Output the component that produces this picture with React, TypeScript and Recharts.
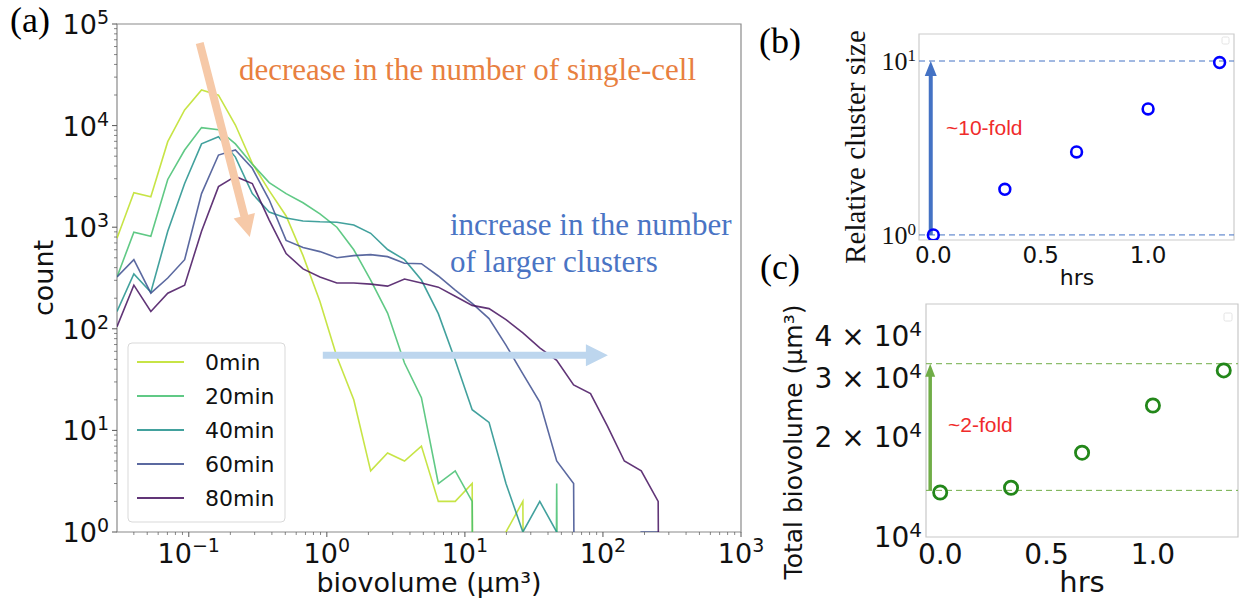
import { Line, LineChart, ReferenceArea, ReferenceLine, Scatter, ScatterChart, XAxis, YAxis } from "recharts"

const SANS = "DejaVu Sans"
const SERIF = "Liberation Serif"

// (a) histogram: log-spaced bin centres in µm³
const binCenters = [
  0.0302, 0.04, 0.0531, 0.0704, 0.0933, 0.1237, 0.1641, 0.2176, 0.2884, 0.3824,
  0.507, 0.6723, 0.8913, 1.182, 1.567, 2.077, 2.754, 3.652, 4.842, 6.42,
  8.511, 11.29, 14.96, 19.84, 26.3, 34.87, 46.24, 61.31, 81.28, 107.8,
  142.9, 189.4, 251.2, 333.0,
]

const count0min = [778, 2190, 1995, 6950, 14260, 22400, 19950, 10140, 4250, 2290, 1290, 525, 186, 53, 20, 4, 6, 5, 7, 2, 2, 3, 0, 1, 2, 0, 0, 0, 0, 0, 0, 0, 0, 0]
const count20min = [324, 891, 813, 2950, 5750, 9550, 9120, 6600, 4170, 2750, 2140, 1740, 1350, 1000, 600, 302, 143, 46, 21, 3, 4, 2, 0, 0, 0, 0, 3, 0, 0, 0, 0, 0, 0, 0]
const count40min = [148, 347, 229, 912, 2690, 6610, 7760, 4900, 2140, 1410, 1230, 1150, 1130, 1120, 1050, 871, 603, 479, 302, 141, 49, 16, 12, 3, 1, 2, 1, 0, 0, 0, 0, 0, 0, 0]
const count60min = [324, 479, 224, 316, 479, 2140, 5130, 5750, 3800, 1860, 741, 631, 575, 501, 525, 537, 513, 442, 437, 331, 240, 178, 126, 69, 36, 19, 5, 3, 0, 0, 0, 1, 1, 0]
const count80min = [105, 269, 148, 224, 269, 912, 2510, 3160, 2690, 1175, 550, 389, 324, 282, 282, 275, 263, 309, 282, 257, 209, 170, 158, 123, 91, 65, 49, 28, 23, 11, 5, 4, 2, 0]

const seriesNames = ["0min", "20min", "40min", "60min", "80min"]
const seriesColors = ["#bddf26", "#44bf70", "#21918c", "#3e4f8f", "#45125f"]
const seriesCounts = [count0min, count20min, count40min, count60min, count80min]

// (b), (c) time course
const hours = [0, 0.333, 0.667, 1.0, 1.333]
const relClusterSize = [1.0, 1.83, 3.0, 5.3, 9.8]
const totalBiovolume = [13600, 14050, 17900, 24800, 31600]
const clusterLevels = [1, 10]
const biovolumeLevels = [13800, 33100]

// empty bins can't sit on a log axis: push them far below so the line drops off vertically
const EMPTY = 1e-30
const histRows = binCenters.map((x, i) => {
  const row: Record<string, number> = { x }
  seriesCounts.forEach((c, k) => {
    row[seriesNames[k]] = c[i] > 0 ? c[i] : EMPTY
  })
  return row
})
const clusterRows = hours.map((h, i) => ({ hrs: h, size: relClusterSize[i] }))
const bioRows = hours.map((h, i) => ({ hrs: h, vol: totalBiovolume[i] }))

const X_MIN = 0.0302
const HRS_DOMAIN = [-0.0667, 1.4]

function logTicks(lo: number, hi: number) {
  const out: number[] = []
  for (let k = Math.floor(Math.log10(lo)); k <= Math.ceil(Math.log10(hi)); k++) {
    for (let m = 1; m <= 9; m++) {
      const v = Number((m * 10 ** k).toPrecision(6))
      if (v >= lo && v <= hi) out.push(v)
    }
  }
  return out
}

const decadeOf = (v: number) => {
  const l = Math.log10(v)
  const k = Math.round(l)
  return Math.abs(l - k) < 1e-6 ? k : null
}
const expText = (k: number) => (k < 0 ? `\u2212${-k}` : `${k}`)

const HistYTick = ({ x, y, payload }: any) => {
  const k = decadeOf(payload.value)
  return (
    <g>
      <line x1={x} x2={x - (k === null ? 3 : 5)} y1={y} y2={y} stroke="#555" strokeWidth={k === null ? 0.7 : 1} />
      {k !== null && (
        <text x={x - 8} y={y + 10} textAnchor="end" fontFamily={SANS} fontSize={27} fill="#111">
          10<tspan dy={-10} fontSize={19}>{expText(k)}</tspan>
        </text>
      )}
    </g>
  )
}

const HistXTick = ({ x, y, payload }: any) => {
  const k = decadeOf(payload.value)
  return (
    <g>
      <line x1={x} x2={x} y1={y} y2={y + (k === null ? 3 : 5)} stroke="#555" strokeWidth={k === null ? 0.7 : 1} />
      {k !== null && (
        <text x={x} y={y + 31} textAnchor="middle" fontFamily={SANS} fontSize={27} fill="#111">
          10<tspan dy={-11} fontSize={19}>{expText(k)}</tspan>
        </text>
      )}
    </g>
  )
}

const ClusterYTick = ({ x, y, payload }: any) => {
  const k = decadeOf(payload.value) ?? 0
  return (
    <text x={x - 3} y={y + 9} textAnchor="end" fontFamily={SERIF} fontSize={26} fill="#111">
      10<tspan dy={-9} fontSize={17}>{expText(k)}</tspan>
    </text>
  )
}

const BioYTick = ({ x, y, payload }: any) => {
  const k = Math.floor(Math.log10(payload.value) + 1e-9)
  const m = Math.round(payload.value / 10 ** k)
  return (
    <text x={x - 4} y={y + 10} textAnchor="end" fontFamily={SANS} fontSize={28} fill="#111">
      {m === 1 ? "" : `${m} \u00d7 `}10<tspan dy={-10} fontSize={20}>{k}</tspan>
    </text>
  )
}

const hrsTick = (size: number, drop: number) => ({ x, y, payload }: any) => (
  <text x={x} y={y + drop} textAnchor="middle" fontFamily={SANS} fontSize={size} fill="#111">
    {payload.value.toFixed(1)}
  </text>
)

// thick filled arrow between the two segment ends
const arrowShape = (color: string, shaft: number, headLen: number, headW: number) => (p: any) => {
  const { x1, y1, x2, y2 } = p
  const len = Math.hypot(x2 - x1, y2 - y1)
  const ux = (x2 - x1) / len
  const uy = (y2 - y1) / len
  const nx = -uy
  const ny = ux
  const bx = x2 - ux * headLen
  const by = y2 - uy * headLen
  const pts = [
    [x1 + (nx * shaft) / 2, y1 + (ny * shaft) / 2],
    [bx + (nx * shaft) / 2, by + (ny * shaft) / 2],
    [bx + (nx * headW) / 2, by + (ny * headW) / 2],
    [x2, y2],
    [bx - (nx * headW) / 2, by - (ny * headW) / 2],
    [bx - (nx * shaft) / 2, by - (ny * shaft) / 2],
    [x1 - (nx * shaft) / 2, y1 - (ny * shaft) / 2],
  ]
  return <polygon points={pts.map((q) => q.join(",")).join(" ")} fill={color} />
}

function HistogramPanel() {
  // extra room on the right so the 10³ tick label isn't clipped
  return (
    <LineChart width={790} height={607} data={histRows} margin={{ top: 24, right: 49, bottom: 0, left: 0 }}>
      <XAxis
        dataKey="x"
        type="number"
        scale="log"
        domain={[X_MIN, 1000]}
        allowDataOverflow
        ticks={logTicks(0.04, 1000)}
        interval={0}
        height={75}
        axisLine={false}
        tickLine={false}
        tickSize={0}
        tickMargin={0}
        tick={HistXTick}
      />
      <YAxis
        type="number"
        scale="log"
        domain={[1, 100000]}
        allowDataOverflow
        ticks={logTicks(1, 100000)}
        interval={0}
        width={117}
        axisLine={false}
        tickLine={false}
        tickSize={0}
        tickMargin={0}
        tick={HistYTick}
      />
      {seriesNames.map((name, i) => (
        <Line
          key={name}
          dataKey={name}
          type="linear"
          stroke={seriesColors[i]}
          strokeOpacity={0.85}
          strokeWidth={1.6}
          dot={false}
          isAnimationActive={false}
        />
      ))}
      <ReferenceLine
        segment={[{ x: 0.12, y: 65000 }, { x: 0.2766, y: 801 }]}
        shape={arrowShape("#f6c9a8", 8, 22, 22)}
      />
      <ReferenceLine
        segment={[{ x: 0.935, y: 55 }, { x: 108.6, y: 55 }]}
        shape={arrowShape("#bdd6ee", 7, 22, 22)}
      />
      <ReferenceArea x1={X_MIN} x2={1000} y1={1} y2={100000} fill="none" stroke="#8a8a8a" strokeWidth={1.2} />
    </LineChart>
  )
}

function ClusterPanel() {
  return (
    <ScatterChart width={484} height={300} margin={{ top: 34, right: 10, bottom: 0, left: 0 }}>
      <XAxis
        dataKey="hrs"
        type="number"
        domain={HRS_DOMAIN}
        allowDataOverflow
        ticks={[0, 0.5, 1]}
        interval={0}
        height={60}
        axisLine={false}
        tickLine={false}
        tickSize={0}
        tickMargin={0}
        tick={hrsTick(23, 23)}
      />
      <YAxis
        dataKey="size"
        type="number"
        scale="log"
        domain={[0.935, 14.3]}
        allowDataOverflow
        ticks={[1, 10]}
        interval={0}
        width={159}
        axisLine={false}
        tickLine={false}
        tickSize={0}
        tickMargin={0}
        tick={ClusterYTick}
      />
      <ReferenceArea x1={HRS_DOMAIN[0]} x2={HRS_DOMAIN[1]} y1={0.935} y2={14.3} fill="none" stroke="#cccccc" strokeWidth={1.2} />
      {clusterLevels.map((v) => (
        <ReferenceLine key={v} y={v} stroke="#4472c4" strokeDasharray="6 4" strokeWidth={1} />
      ))}
      <ReferenceLine
        segment={[{ x: -0.012, y: clusterLevels[0] }, { x: -0.012, y: clusterLevels[1] }]}
        shape={arrowShape("#4472c4", 4, 15, 12)}
      />
      <Scatter
        data={clusterRows}
        isAnimationActive={false}
        shape={(p: any) => <circle cx={p.cx} cy={p.cy} r={5.4} fill="none" stroke="#0000ff" strokeWidth={2.6} />}
      />
    </ScatterChart>
  )
}

function BiovolumePanel() {
  return (
    <ScatterChart width={484} height={317} margin={{ top: 14, right: 6, bottom: 0, left: 0 }}>
      <XAxis
        dataKey="hrs"
        type="number"
        domain={HRS_DOMAIN}
        allowDataOverflow
        ticks={[0, 0.5, 1]}
        interval={0}
        height={70}
        axisLine={false}
        tickLine={false}
        tickSize={0}
        tickMargin={0}
        tick={hrsTick(28, 27)}
      />
      <YAxis
        dataKey="vol"
        type="number"
        scale="log"
        domain={[10000, 50000]}
        allowDataOverflow
        ticks={[10000, 20000, 30000, 40000]}
        interval={0}
        width={166}
        axisLine={false}
        tickLine={false}
        tickSize={0}
        tickMargin={0}
        tick={BioYTick}
      />
      <ReferenceArea x1={HRS_DOMAIN[0]} x2={HRS_DOMAIN[1]} y1={10000} y2={50000} fill="none" stroke="#c8c8c8" strokeWidth={1.2} />
      {biovolumeLevels.map((v) => (
        <ReferenceLine key={v} y={v} stroke="#70ad47" strokeDasharray="6 4" strokeWidth={1} />
      ))}
      <ReferenceLine
        segment={[{ x: -0.047, y: biovolumeLevels[0] }, { x: -0.047, y: biovolumeLevels[1] }]}
        shape={arrowShape("#70ad47", 3.5, 13, 10)}
      />
      <Scatter
        data={bioRows}
        isAnimationActive={false}
        shape={(p: any) => <circle cx={p.cx} cy={p.cy} r={6.6} fill="none" stroke="#23871a" strokeWidth={2.8} />}
      />
    </ScatterChart>
  )
}

function Annotations() {
  return (
    <svg width={1244} height={607} style={{ position: "absolute", left: 0, top: 0, pointerEvents: "none" }}>
      {/* panel letters */}
      <text x={10} y={32} fontFamily={SERIF} fontSize={36} fill="#000">(a)</text>
      <text x={759} y={53} fontFamily={SERIF} fontSize={36} fill="#000">(b)</text>
      <text x={760} y={279} fontFamily={SERIF} fontSize={36} fill="#000">(c)</text>

      {/* (a) notes */}
      <text x={239} y={80} fontFamily={SERIF} fontSize={31} fill="#e8803f">decrease in the number of single-cell</text>
      <text x={450} y={235} fontFamily={SERIF} fontSize={31} fill="#4a74c4">increase in the number</text>
      <text x={450} y={272} fontFamily={SERIF} fontSize={31} fill="#4a74c4">of larger clusters</text>

      {/* (a) axis titles */}
      <text x={429} y={592} textAnchor="middle" fontFamily={SANS} fontSize={27} fill="#111">biovolume (µm³)</text>
      <text transform="translate(53,278) rotate(-90)" textAnchor="middle" fontFamily={SANS} fontSize={27} fill="#111">count</text>

      {/* (a) legend */}
      <rect x={128} y={343} width={157} height={179} rx={4} fill="#fff" fillOpacity={0.8} stroke="#d9d9d9" />
      {seriesNames.map((name, i) => (
        <g key={name}>
          <line x1={137} x2={184} y1={362 + i * 34} y2={362 + i * 34} stroke={seriesColors[i]} strokeOpacity={0.85} strokeWidth={1.8} />
          <text x={205} y={370 + i * 34} fontFamily={SANS} fontSize={22} fill="#111">{name}</text>
        </g>
      ))}

      {/* (b) */}
      <text transform="translate(865,147) rotate(-90)" textAnchor="middle" fontFamily={SERIF} fontSize={29} fill="#111">Relative cluster size</text>
      <text x={1077} y={285} textAnchor="middle" fontFamily={SANS} fontSize={22} fill="#111">hrs</text>
      <text x={946} y={135} fontFamily="Liberation Sans" fontSize={21} fill="#f02b2b">~10-fold</text>
      <rect x={1222} y={37} width={7} height={7} rx={1.5} fill="none" stroke="#e4e4e4" />

      {/* (c) */}
      <text transform="translate(802,442) rotate(-90)" textAnchor="middle" fontFamily={SANS} fontSize={25} fill="#111">Total biovolume (µm³)</text>
      <text x={1082} y={592} textAnchor="middle" fontFamily={SANS} fontSize={29} fill="#111">hrs</text>
      <text x={948} y={432} fontFamily="Liberation Sans" fontSize={21} fill="#f02b2b">~2-fold</text>
      <rect x={1224} y={313} width={8} height={8} rx={1.5} fill="none" stroke="#e4e4e4" />
    </svg>
  )
}

export default function App() {
  return (
    <div style={{ position: "absolute", left: 0, top: 0, width: 1244, height: 607, background: "#fff", overflow: "hidden" }}>
      <div style={{ position: "absolute", left: 0, top: 0 }}>
        <HistogramPanel />
      </div>
      <div style={{ position: "absolute", left: 760, top: 0 }}>
        <ClusterPanel />
      </div>
      <div style={{ position: "absolute", left: 760, top: 290 }}>
        <BiovolumePanel />
      </div>
      <Annotations />
    </div>
  )
}
